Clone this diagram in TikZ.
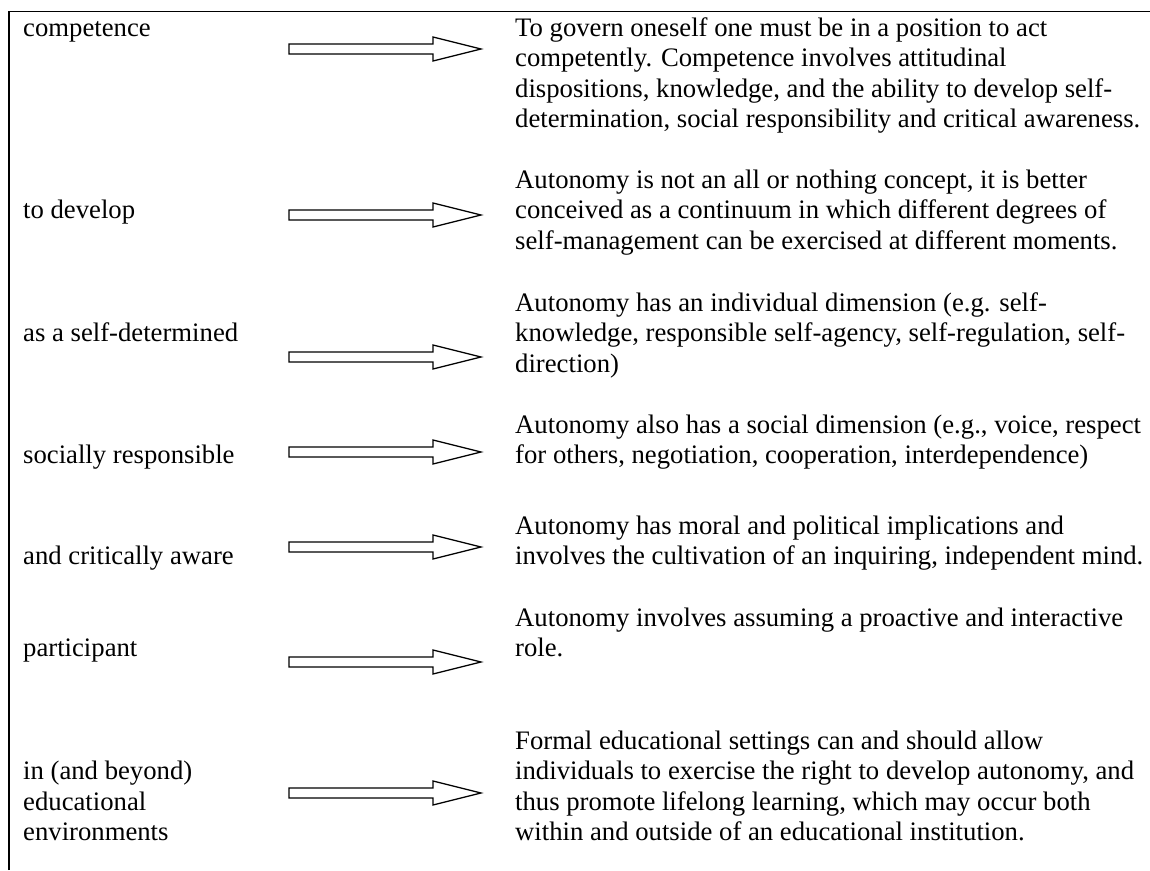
\documentclass[tikz,border=0pt]{standalone}
\usepackage{fontspec}
\setmainfont{Liberation Serif}
\usepackage{xcolor}
\usepackage{tikz}
\usetikzlibrary{calc,positioning}
\definecolor{inkc}{HTML}{000000}
\tikzset{
  lbl/.style={anchor=base west,inner sep=0pt,align=left,inkc,font=\fontsize{26.7}{30.4}\selectfont},
  txt/.style={anchor=base west,inner sep=0pt,align=left,inkc,font=\fontsize{26.7}{30.4}\selectfont},
  fat/.style={draw=inkc,line width=1.3pt,fill=white,line join=miter},
  frame/.style={draw=inkc,line width=1.8pt}
}
\begin{document}
\begin{tikzpicture}[x=1pt,y=-1pt]
\useasboundingbox (0,0) rectangle (1150,870);
\draw[frame] (9,870)--(9,11.5)--(1150,11.5);
% left column (base = last line)
\node[lbl] (comp) at (23,36.5) {competence};
\node[lbl] (devel) at (23,218.9) {to develop};
\node[lbl] (selfd) at (23,341.9) {as a self-determined};
\node[lbl] (socr) at (23,463.9) {socially responsible};
\node[lbl] (crit) at (23,564.9) {and critically aware};
\node[lbl] (part) at (23,656.9) {participant};
\node[lbl] (envi) at (23,840.7) {in (and beyond)\\educational\\environments};
% block arrows
\foreach \y in {49,215,357,452,547,662,793}
  \draw[fat] (289,\y-5)--(433,\y-5)--(433,\y-12)--(481,\y)--(433,\y+12)--(433,\y+5)--(289,\y+5)--cycle;
% right column (base = last line)
\node[txt] (dcomp) at (515,127.7) {To govern oneself one must be in a position to act\\competently. Competence involves attitudinal\\dispositions, knowledge, and the ability to develop self-\\determination, social responsibility and critical awareness.};
\node[txt] (ddevel) at (515,249.3) {Autonomy is not an all or nothing concept, it is better\\conceived as a continuum in which different degrees of\\self-management can be exercised at different moments.};
\node[txt] (dselfd) at (515,372.3) {Autonomy has an individual dimension (e.g. self-\\knowledge, responsible self-agency, self-regulation, self-\\direction)};
\node[txt] (dsocr) at (515,463.9) {Autonomy also has a social dimension (e.g., voice, respect\\for others, negotiation, cooperation, interdependence)};
\node[txt] (dcrit) at (515,564.9) {Autonomy has moral and political implications and\\involves the cultivation of an inquiring, independent mind.};
\node[txt] (dpart) at (515,656.9) {Autonomy involves assuming a proactive and interactive\\role.};
\node[txt] (denvi) at (515,840.7) {Formal educational settings can and should allow\\individuals to exercise the right to develop autonomy, and\\thus promote lifelong learning, which may occur both\\within and outside of an educational institution.};
\end{tikzpicture}
\end{document}
